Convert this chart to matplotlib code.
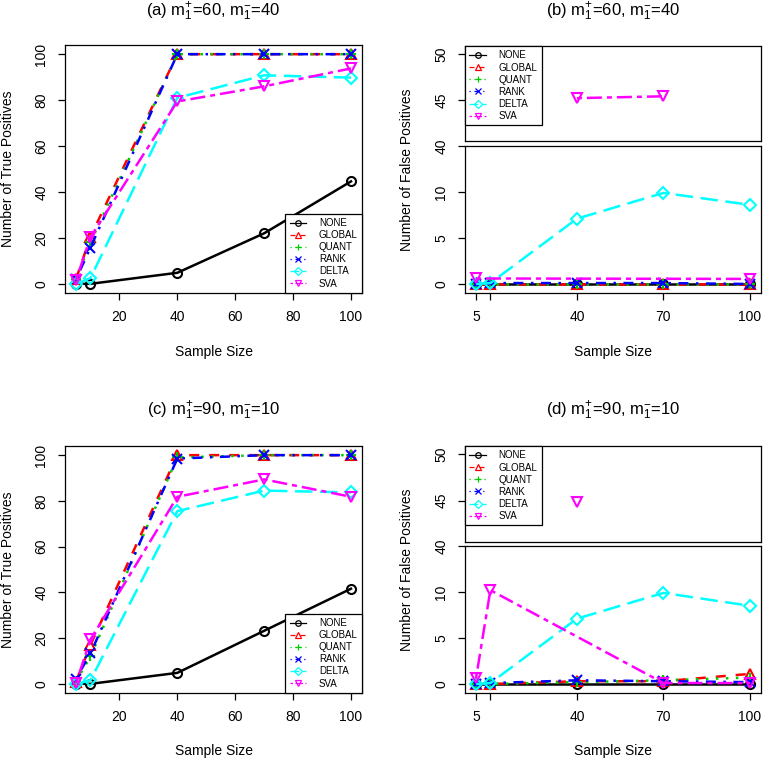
import numpy as np
import matplotlib
matplotlib.use("Agg")
import matplotlib.pyplot as plt
from matplotlib.lines import Line2D

plt.rcParams['font.family'] = ['Liberation Sans', 'DejaVu Sans']
plt.rcParams['mathtext.fontset'] = 'custom'
plt.rcParams['mathtext.rm'] = 'Liberation Sans'
plt.rcParams['mathtext.it'] = 'Liberation Sans'

# data
sizes = [5, 10, 40, 70, 100]
methods = ['NONE', 'GLOBAL', 'QUANT', 'RANK', 'DELTA', 'SVA']

# (a) true positives, m1+=60, m1-=40
tp_a = [[0, 0, 4.8, 22.0, 44.6],
        [2, 20.5, 100, 100, 100],
        [2, 18, 100, 100, 100],
        [2, 15.8, 100, 100, 100],
        [0, 2.5, 81, 90.8, 89.8],
        [1.5, 20.3, 79.4, 86, 93.8]]

# (c) true positives, m1+=90, m1-=10
tp_c = [[0, 0, 4.8, 23.2, 41.6],
        [1, 17, 100, 100, 100],
        [1, 12, 99, 100, 100],
        [2.3, 13.3, 98.5, 100, 100],
        [0, 1.6, 75.5, 84.5, 83.7],
        [0.3, 19.4, 81.8, 89.4, 81.8]]

# (b) false positives, m1+=60, m1-=40
fp_b = [[0, 0, 0, 0, 0],
        [0, 0, 0, 0, 0],
        [0, 0, 0, 0, 0],
        [0, 0.1, 0.1, 0.1, 0],
        [0, 0.1, 7.1, 9.9, 8.6],
        [0.6, np.nan, 45.2, 45.4, 0.55]]

# (d) false positives, m1+=90, m1-=10
fp_d = [[0, 0, 0, 0, 0],
        [0, 0, 0.3, 0.3, 1.1],
        [0, 0, 0.2, 0.4, 0.7],
        [0, 0.1, 0.4, 0.3, 0.2],
        [0, 0.1, 7.1, 9.9, 8.5],
        [0.6, 10.2, 44.8, 0.1, 0.1]]

fp_xticks = [5, 10, 40, 70, 100]
fp_xlabels = ['5', '', '40', '70', '100']

# R style: col 1..6, lty 1..6, pch 1..6
colors = ['black', '#FF0000', '#00CD00', '#0000FF', '#00FFFF', '#FF00FF']
dashes = [None, (4, 4), (1, 3), (1, 3, 4, 3), (7, 3), (2, 2, 6, 2)]
markers = ['o', '^', '+', 'x', 'D', 'v']
msizes = [6.5, 6.5, 7, 6.5, 6, 7]

W, H = 764, 761
fig = plt.figure(figsize=(W / 100, H / 100), dpi=100)


def rect(l, t, r, b):
    return [l / W, 1 - b / H, (r - l) / W, (b - t) / H]


def ftext(x, y, s, **kw):
    fig.text(x / W, 1 - y / H, s, ha='center', va='center', **kw)


def style(ax):
    for sp in ax.spines.values():
        sp.set_linewidth(0.9)
    ax.tick_params(direction='out', length=5, width=0.9, labelsize=10, pad=7)
    ax.tick_params(axis='y', labelrotation=90)
    for lab in ax.get_yticklabels():
        lab.set_va('center')


def draw(ax, x, y, i):
    kw = dict(color=colors[i], lw=1.8, marker=markers[i], ms=msizes[i],
              mfc='none', mec=colors[i], mew=1.5)
    ln, = ax.plot(x, y, **kw)
    if dashes[i] is not None:
        ln.set_dashes(dashes[i])


def add_legend(ax, loc):
    handles = []
    for i, m in enumerate(methods):
        h = Line2D([], [], color=colors[i], lw=0.9, marker=markers[i],
                   ms=4, mfc='none', mec=colors[i], mew=0.9, label=m)
        if dashes[i] is not None:
            h.set_dashes(dashes[i])
        handles.append(h)
    leg = ax.legend(handles=handles, loc=loc, borderaxespad=0, fancybox=False,
                    edgecolor='black', framealpha=1, fontsize=7, numpoints=1,
                    handlelength=1.7, handletextpad=1.3, labelspacing=0.22,
                    borderpad=0.45)
    leg.get_frame().set_linewidth(0.9)


def tp_panel(box, data, title, ty, ly):
    ax = fig.add_axes(rect(*box))
    for i in range(len(methods)):
        draw(ax, sizes, data[i], i)
    ax.set_xlim(1.2, 103.8)
    ax.set_ylim(-4, 104)
    ax.set_xticks([20, 40, 60, 80, 100])
    ax.set_yticks([0, 20, 40, 60, 80, 100])
    style(ax)
    add_legend(ax, 'lower right')
    cx = (box[0] + box[2]) / 2
    ftext(cx, ty, title, fontsize=12)
    ftext(cx, ly, 'Sample Size', fontsize=10)
    ftext(8, (box[1] + box[3]) / 2, 'Number of True Positives', fontsize=10,
          rotation=90)


def fp_panel(upbox, lowbox, data, title, ty, ly):
    axl = fig.add_axes(rect(*lowbox))
    axu = fig.add_axes(rect(*upbox))
    xs = np.array(sizes, dtype=float)
    for i in range(len(methods)):
        y = np.array(data[i], dtype=float)
        ok = ~np.isnan(y)
        lo = ok & (y < 40)
        hi = ok & (y >= 40)
        if lo.any():
            draw(axl, xs[lo], y[lo], i)
        if hi.any():
            draw(axu, xs[hi], y[hi], i)
    for ax in (axl, axu):
        ax.set_xlim(1.2, 103.8)
    axl.set_ylim(-0.98, 15.0)
    axu.set_ylim(40.54, 50.87)
    axl.set_yticks([0, 5, 10, 15])
    axl.set_yticklabels(['0', '5', '10', '40'])
    axu.set_yticks([45, 50])
    axl.set_xticks(fp_xticks)
    axl.set_xticklabels(fp_xlabels)
    axu.set_xticks([])
    style(axl)
    style(axu)
    add_legend(axu, 'upper left')
    cx = (lowbox[0] + lowbox[2]) / 2
    ftext(cx, ty, title, fontsize=12)
    ftext(cx, ly, 'Sample Size', fontsize=10)
    ftext(407, (upbox[1] + lowbox[3]) / 2, 'Number of False Positives',
          fontsize=10, rotation=90)


tp_panel((65, 45, 362, 293), tp_a,
         r'(a) $\mathrm{m}_1^{+}$=60, $\mathrm{m}_1^{-}$=40', 12, 352)
tp_panel((65, 446, 362, 693), tp_c,
         r'(c) $\mathrm{m}_1^{+}$=90, $\mathrm{m}_1^{-}$=10', 411, 751)
fp_panel((465, 46, 761, 141), (465, 146, 761, 293), fp_b,
         r'(b) $\mathrm{m}_1^{+}$=60, $\mathrm{m}_1^{-}$=40', 12, 352)
fp_panel((465, 446, 761, 542), (465, 546, 761, 693), fp_d,
         r'(d) $\mathrm{m}_1^{+}$=90, $\mathrm{m}_1^{-}$=10', 411, 751)

fig.savefig('out.png', dpi=100)
